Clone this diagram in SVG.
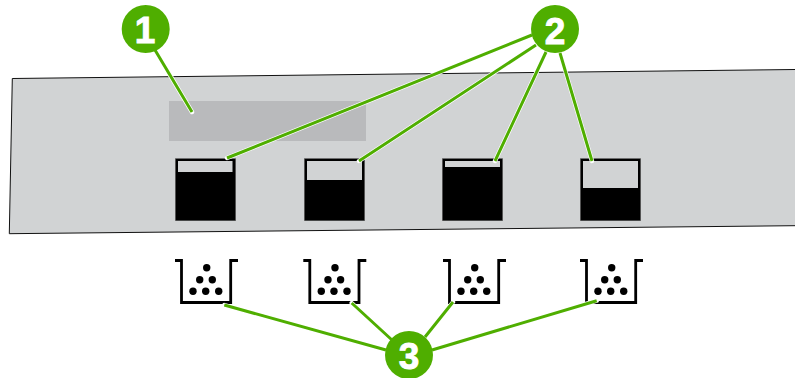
<svg xmlns="http://www.w3.org/2000/svg" xmlns:xlink="http://www.w3.org/1999/xlink" width="795" height="378" viewBox="0 0 795 378">
<style>
.halo{stroke:#fff;stroke-width:4.4;fill:none;stroke-linecap:round}
.lead{stroke:#4fae00;stroke-width:3;fill:none}
.badge{fill:#4fae00}
.num{fill:#fff;stroke:#fff;stroke-width:.9;font-family:"Liberation Sans",Arial,sans-serif;font-weight:700;font-size:37px;text-anchor:middle}
.b{fill:none;stroke:#000;stroke-width:2.8}
.t{fill:#000;stroke:#777;stroke-width:.4}
.w{fill:#d1d3d4}
</style>
<defs>
<g id="bucket">
<path class="b" d="M175 260.5H181.5V302.5H230.7V260.5H238"/>
<circle cx="206.7" cy="267.7" r="3.7"/><circle cx="199.7" cy="279.7" r="3.7"/><circle cx="212.3" cy="279.7" r="3.7"/>
<circle cx="193" cy="291.3" r="3.7"/><circle cx="205.7" cy="291.3" r="3.7"/><circle cx="218.7" cy="291.3" r="3.7"/>
</g>
</defs>
<g id="panel">
<path d="M12.3 78.5L795 69.5V225.7L9.3 233.7Z" fill="#d1d3d4"/>
<path d="M795 69.5L12.3 78.5L9.3 233.7L795 225.7" fill="none" stroke="#111" stroke-width="1"/>
<rect x="169" y="101" width="197" height="40" fill="#b9babc"/>
</g>
<g id="tank1"><rect class="t" x="175.3" y="158.5" width="60.4" height="62.3"/><rect class="w" x="178" y="161" width="54.5" height="11"/></g>
<g id="tank2"><rect class="t" x="304.3" y="158.5" width="60.4" height="62.3"/><rect class="w" x="307" y="161" width="55" height="19"/></g>
<g id="tank3"><rect class="t" x="442.3" y="158.5" width="60.4" height="62.3"/><rect class="w" x="445" y="161" width="55" height="6"/></g>
<g id="tank4"><rect class="t" x="580.3" y="158.5" width="60.4" height="62.3"/><rect class="w" x="583" y="161" width="55" height="27"/></g>
<g id="bucket1"><use xlink:href="#bucket" href="#bucket"/></g>
<g id="bucket2"><use xlink:href="#bucket" href="#bucket" x="128.3"/></g>
<g id="bucket3"><use xlink:href="#bucket" href="#bucket" x="268"/></g>
<g id="bucket4"><use xlink:href="#bucket" href="#bucket" x="405"/></g>
<g id="connectors">
<path class="halo" d="M155 50L192 112M532 35L227 158M536 45L359 161M546 52L495 161M560 53L592 161M224.3 305L386 350M351.7 303L392 340M453 302L425 337M596.7 300.7L432 350"/>
<path class="lead" d="M155 50L192 112M532 35L227 158M536 45L359 161M546 52L495 161M560 53L592 161M224.3 305L386 350M351.7 303L392 340M453 302L425 337M596.7 300.7L432 350"/>
</g>
<g id="badge1"><circle class="badge" cx="145.7" cy="29" r="24"/><text class="num" x="145" y="43">1</text></g>
<g id="badge2"><circle class="badge" cx="555" cy="29" r="24"/><text class="num" x="555" y="43.5">2</text></g>
<g id="badge3"><circle class="badge" cx="409" cy="355" r="24"/><text class="num" x="409" y="368.5">3</text></g>
</svg>
